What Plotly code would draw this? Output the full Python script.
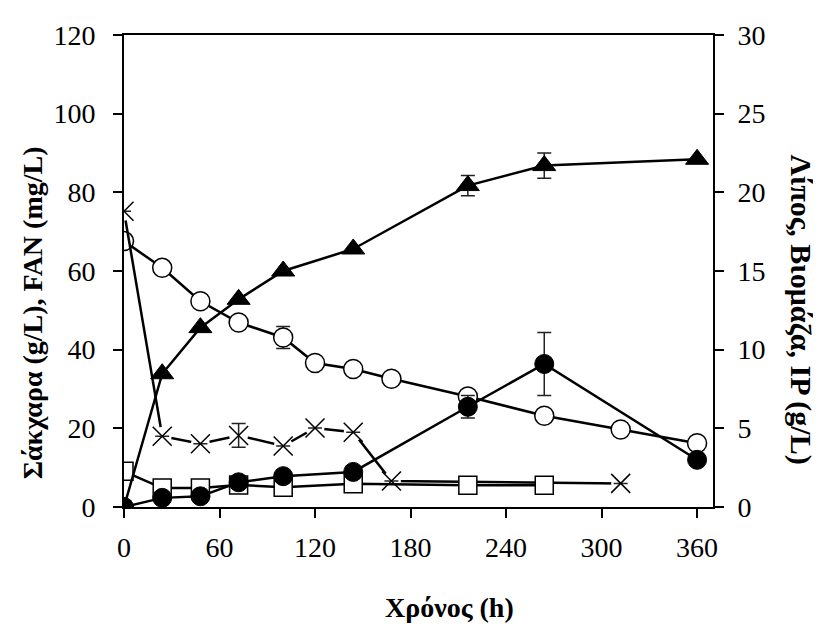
import plotly.graph_objects as go

# Time points (h)
t_sugar = [0, 24, 48, 72, 100, 120, 144, 168, 216, 264, 312, 360]
sugar = [67.6, 60.8, 52.3, 46.9, 43.1, 36.6, 35.1, 32.6, 28.1, 23.2, 19.7, 16.2]
sugar_err = [0, 0, 0, 0, 2.8, 0, 0, 0, 0, 0, 0, 0]

t_fan = [0, 24, 48, 72, 100, 120, 144, 168, 312]
fan = [75.2, 18.0, 16.1, 18.2, 15.5, 20.1, 19.0, 6.6, 6.0]
fan_err = [0, 0, 0, 3.0, 0, 0, 0, 0, 0]

t_bio = [0, 24, 48, 72, 100, 144, 216, 264, 360]
biomass = [0, 8.47, 11.4, 13.2, 15.0, 16.4, 20.43, 21.7, 22.1]
biomass_err = [0, 0, 0, 0, 0, 0, 0.64, 0.8, 0]

t_lip = [0, 24, 48, 72, 100, 144, 216, 264, 360]
lipid = [0, 0.58, 0.68, 1.57, 1.96, 2.23, 6.37, 9.09, 3.0]
lipid_err = [0, 0, 0, 0, 0, 0, 0.72, 2.0, 0]

t_ip = [0, 24, 48, 72, 100, 144, 216, 264]
ip = [2.27, 1.2, 1.2, 1.4, 1.26, 1.47, 1.38, 1.38]

x_ticks = [0, 60, 120, 180, 240, 300, 360]

FONT = "Liberation Serif"
LW = 2.5

# plot-area geometry (pixels)
L, R, T, B = 116, 705, 14, 499
W, H = 821, 637
PW, PH = R - L, B - T

def err(vals):
    return dict(type="data", array=vals, visible=True, color="#222", thickness=1.5, width=7)

fig = go.Figure()

fig.add_trace(go.Scatter(
    x=t_sugar, y=sugar, mode="lines+markers", yaxis="y",
    line=dict(color="black", width=LW),
    marker=dict(symbol="circle", size=19, color="white", line=dict(color="black", width=1.5)),
    error_y=err(sugar_err), showlegend=False))

fig.add_trace(go.Scatter(
    x=t_fan, y=fan, mode="lines", yaxis="y",
    line=dict(color="black", width=LW), showlegend=False))
fig.add_trace(go.Scatter(
    x=t_fan, y=fan, mode="markers", yaxis="y",
    marker=dict(symbol="circle", size=19, color="white", line=dict(width=0)),
    showlegend=False, hoverinfo="skip"))
fig.add_trace(go.Scatter(
    x=t_fan, y=fan, mode="markers", yaxis="y",
    marker=dict(symbol="x-thin", size=19, color="black", line=dict(color="black", width=1.5)),
    error_y=err(fan_err), showlegend=False))

fig.add_trace(go.Scatter(
    x=t_ip, y=ip, mode="lines+markers", yaxis="y2",
    line=dict(color="black", width=LW),
    marker=dict(symbol="square", size=18, color="white", line=dict(color="black", width=1.5)),
    showlegend=False))

fig.add_trace(go.Scatter(
    x=t_lip, y=lipid, mode="lines+markers", yaxis="y2",
    line=dict(color="black", width=LW),
    marker=dict(symbol="circle", size=19, color="black", line=dict(color="black", width=1)),
    error_y=err(lipid_err), showlegend=False))

fig.add_trace(go.Scatter(
    x=t_bio, y=biomass, mode="lines+markers", yaxis="y2",
    line=dict(color="black", width=LW),
    marker=dict(symbol="triangle-up", size=20, color="black", line=dict(color="black", width=1)),
    error_y=err(biomass_err), showlegend=False))

axis_common = dict(
    showgrid=False, zeroline=False, showline=True, linecolor="black", linewidth=2,
    ticks="outside", ticklen=9, tickwidth=2, tickcolor="black",
    ticklabeloverflow="allow",
    tickfont=dict(family=FONT, size=28, color="black"),
)

def px(x):
    return (x - L) / PW

def py(y):
    return (B - y) / PH

fig.update_layout(
    width=W, height=H,
    margin=dict(l=L, r=W - R, t=T, b=H - B),
    paper_bgcolor="white", plot_bgcolor="white",
    xaxis=dict(range=[0, 370], tickvals=x_ticks, ticklabelstandoff=5, mirror=True, **axis_common),
    yaxis=dict(range=[0, 120], dtick=20, ticklabelstandoff=12, **axis_common),
    yaxis2=dict(range=[0, 30], dtick=5, overlaying="y", side="right", ticklabelstandoff=8, **axis_common),
    annotations=[
        dict(text="<b>Χρόνος (h)</b>", xref="paper", yref="paper", x=px(441), y=py(602),
             xanchor="center", yanchor="middle", showarrow=False,
             font=dict(family=FONT, size=28, color="black")),
        dict(text="<b>Σάκχαρα (g/L), FAN (mg/L)</b>", xref="paper", yref="paper",
             x=px(24), y=py(300), textangle=-90,
             xanchor="center", yanchor="middle", showarrow=False,
             font=dict(family=FONT, size=28, color="black")),
        dict(text="<b>Λίπος, Βιομάζα, IP (g/L)</b>", xref="paper", yref="paper",
             x=px(793), y=py(296), textangle=90,
             xanchor="center", yanchor="middle", showarrow=False,
             font=dict(family=FONT, size=30, color="black")),
    ],
)

fig.write_html("out.html")
